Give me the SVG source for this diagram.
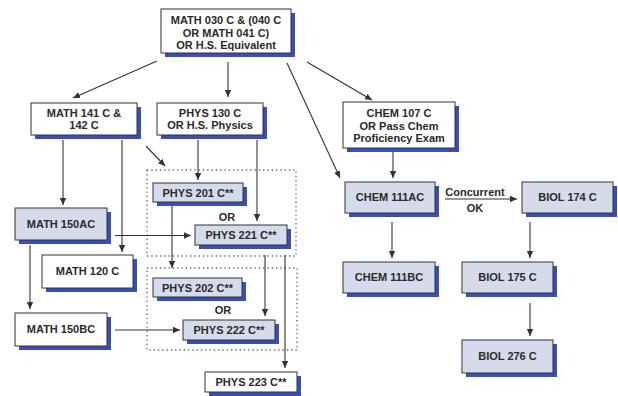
<svg xmlns="http://www.w3.org/2000/svg" width="618" height="396" viewBox="0 0 618 396">
<defs>
<style>
.sh{fill:#3b4fb3}
.bw{fill:#ffffff;stroke:#333;stroke-width:1}
.bf{fill:#d6dbec;stroke:#333;stroke-width:1}
text{font-family:"Liberation Sans",Arial,sans-serif;font-weight:bold;font-size:11px;fill:#2a2a2a;text-anchor:middle}
.c line{stroke:#333;stroke-width:1.1;marker-end:url(#ah)}
.dot{fill:none;stroke:#5a6080;stroke-width:1.3;stroke-dasharray:1.3 3}
</style>
<marker id="ah" markerUnits="userSpaceOnUse" markerWidth="8" markerHeight="8" refX="7" refY="4" orient="auto">
<path d="M0,0.8 L7,4 L0,7.2 Z" fill="#333"/>
</marker>
</defs>
<rect width="618" height="396" fill="#fff"/>
<rect class="dot" x="147" y="170" width="149" height="86"/>
<rect class="dot" x="147" y="268" width="150" height="82"/>
<g class="c" id="connectors">
<line x1="157" y1="61" x2="73" y2="98"/>
<line x1="228" y1="62" x2="228" y2="97"/>
<line x1="287" y1="63" x2="340" y2="178"/>
<line x1="307" y1="62" x2="372" y2="100"/>
<line x1="63" y1="140" x2="63" y2="205"/>
<line x1="122" y1="140" x2="122" y2="252"/>
<line x1="146" y1="146" x2="165" y2="166"/>
<line x1="198" y1="140" x2="198" y2="180"/>
<line x1="257" y1="140" x2="257" y2="221"/>
<line x1="115" y1="235.5" x2="191" y2="235.5"/>
<line x1="30" y1="245" x2="30" y2="309"/>
<line x1="172" y1="206" x2="172" y2="268"/>
<line x1="265" y1="255" x2="265" y2="316"/>
<line x1="285" y1="255" x2="285" y2="368"/>
<line x1="115" y1="330" x2="180" y2="330"/>
<line x1="393" y1="152" x2="393" y2="178"/>
<line x1="445" y1="199" x2="517" y2="199"/>
<line x1="392" y1="222" x2="392" y2="258"/>
<line x1="530" y1="222" x2="530" y2="258"/>
<line x1="530" y1="303" x2="530" y2="336"/>
</g>
<text x="475" y="195.5">Concurrent</text>
<text x="475" y="212">OK</text>
<text x="227" y="221">OR</text>
<text x="223" y="314">OR</text>
<g id="top"><rect class="sh" x="165" y="13" width="130" height="44"/><rect class="bw" x="161" y="9" width="130" height="44"/>
<text x="226" y="24">MATH 030 C &amp; (040 C</text><text x="226" y="37">OR MATH 041 C)</text><text x="226" y="49">OR H.S. Equivalent</text></g>
<g id="math141"><rect class="sh" x="35" y="107" width="106" height="32"/><rect class="bw" x="31" y="103" width="106" height="32"/>
<text x="84" y="117">MATH 141 C &amp;</text><text x="84" y="129">142 C</text></g>
<g id="phys130"><rect class="sh" x="161" y="107" width="106" height="32"/><rect class="bw" x="157" y="103" width="106" height="32"/>
<text x="210" y="117">PHYS 130 C</text><text x="210" y="129">OR H.S. Physics</text></g>
<g id="chem107"><rect class="sh" x="347" y="106" width="112" height="46"/><rect class="bw" x="343" y="102" width="112" height="46"/>
<text x="399" y="117">CHEM 107 C</text><text x="399" y="129.5">OR Pass Chem</text><text x="399" y="142">Proficiency Exam</text></g>
<g id="math150ac"><rect class="sh" x="19" y="212" width="92" height="32"/><rect class="bf" x="15" y="208" width="92" height="32"/>
<text x="61" y="228">MATH 150AC</text></g>
<g id="math120"><rect class="sh" x="46" y="259" width="91" height="33"/><rect class="bw" x="42" y="255" width="91" height="33"/>
<text x="87.5" y="275">MATH 120 C</text></g>
<g id="math150bc"><rect class="sh" x="19" y="317" width="92" height="33"/><rect class="bw" x="15" y="313" width="92" height="33"/>
<text x="61" y="333">MATH 150BC</text></g>
<g id="phys201"><rect class="sh" x="157" y="187" width="90" height="19"/><rect class="bf" x="153" y="183" width="90" height="19"/>
<text x="198" y="196.5">PHYS 201 C**</text></g>
<g id="phys221"><rect class="sh" x="199" y="229" width="92" height="20"/><rect class="bf" x="195" y="225" width="92" height="20"/>
<text x="241" y="239">PHYS 221 C**</text></g>
<g id="phys202"><rect class="sh" x="157" y="282" width="89" height="19"/><rect class="bf" x="153" y="278" width="89" height="19"/>
<text x="197.5" y="291.5">PHYS 202 C**</text></g>
<g id="phys222"><rect class="sh" x="187" y="324" width="92" height="20"/><rect class="bf" x="183" y="320" width="92" height="20"/>
<text x="229" y="334">PHYS 222 C**</text></g>
<g id="phys223"><rect class="sh" x="209" y="376" width="92" height="20"/><rect class="bw" x="205" y="372" width="92" height="20"/>
<text x="251" y="386">PHYS 223 C**</text></g>
<g id="chem111ac"><rect class="sh" x="349" y="186" width="90" height="31"/><rect class="bf" x="345" y="182" width="90" height="31"/>
<text x="390" y="201">CHEM 111AC</text></g>
<g id="biol174"><rect class="sh" x="526" y="186" width="91" height="31"/><rect class="bf" x="522" y="182" width="91" height="31"/>
<text x="567.5" y="201">BIOL 174 C</text></g>
<g id="chem111bc"><rect class="sh" x="347" y="266" width="92" height="31"/><rect class="bf" x="343" y="262" width="92" height="31"/>
<text x="389" y="281">CHEM 111BC</text></g>
<g id="biol175"><rect class="sh" x="466" y="266" width="91" height="31"/><rect class="bf" x="462" y="262" width="91" height="31"/>
<text x="507.5" y="281">BIOL 175 C</text></g>
<g id="biol276"><rect class="sh" x="466" y="344" width="91" height="33"/><rect class="bf" x="462" y="340" width="91" height="33"/>
<text x="507.5" y="360">BIOL 276 C</text></g>
</svg>
